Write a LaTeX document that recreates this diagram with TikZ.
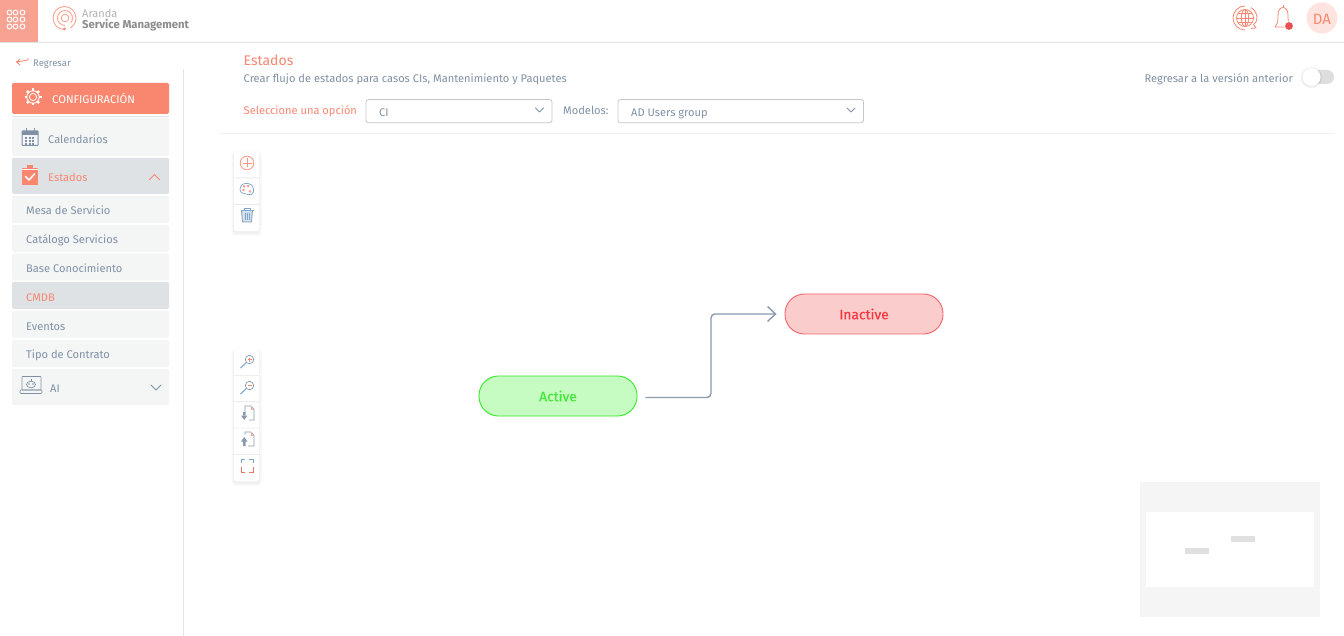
\documentclass[tikz,border=0pt]{standalone}
\usepackage{fontspec}
\setmainfont{Fira Sans}
\usetikzlibrary{arrows.meta,calc}
\definecolor{ora}{HTML}{F98770}
\definecolor{orasq}{HTML}{F8A392}
\definecolor{slate}{HTML}{8091A6}
\definecolor{panel}{HTML}{F4F6F6}
\definecolor{panelsel}{HTML}{DFE2E5}
\definecolor{rule}{HTML}{E3E3E3}
\definecolor{ddbord}{HTML}{C4C7CB}
\definecolor{icoblue}{HTML}{7FA6CC}
\definecolor{icoline}{HTML}{8A9AAE}
\definecolor{gfill}{HTML}{C6FCC2}
\definecolor{gline}{HTML}{35EA2A}
\definecolor{gtext}{HTML}{45E83A}
\definecolor{rfill}{HTML}{FACCCC}
\definecolor{rline}{HTML}{F0646C}
\definecolor{rtext}{HTML}{F5363F}
\tikzset{
  txt/.style={inner sep=0pt,anchor=west,text=slate,text height=11pt,text depth=2pt,font=\fontsize{11.1}{12}\selectfont},
  otxt/.style={txt,text=ora},
  side/.style={fill=panel,draw=none,rounded corners=1.5pt},
  sidesel/.style={fill=panelsel,draw=none,rounded corners=1.5pt},
  dd/.style={draw=ddbord,line width=.8pt,fill=white,rounded corners=2.5pt},
  chev/.style={line width=.9pt,line cap=round,line join=round},
  ico/.style={line width=.7pt,draw=icoline},
  oico/.style={line width=.8pt,draw=ora},
  state/.style={rounded corners=19.5pt,minimum width=158pt,minimum height=40pt,inner sep=0pt,line width=.9pt,font=\fontsize{13.8}{15}\selectfont\addfontfeatures{FakeBold=0.25}},
  flow/.style={draw=icoline,line width=1.4pt,rounded corners=4pt,-{Straight Barb[length=8pt,width=15pt,line width=1.4pt]},shorten <=8pt,shorten >=8pt},
  mini/.style={fill=#1,draw=none}
}
\newcommand{\toolbar}[2]{%
  \foreach \s/\o in {3/.012,2/.018,1/.025}{\fill[black,opacity=\o,rounded corners=3pt] (234-\s,#1-\s+2) rectangle (259+\s,#2+\s+2);}
  \fill[white,rounded corners=2pt] (234,#1) rectangle (259,#2);}
\begin{document}
\begin{tikzpicture}[x=1pt,y=-1pt]
\useasboundingbox (0,0) rectangle (1344,636);
\fill[white] (0,0) rectangle (1344,636);
% top bar
\fill[rule] (0,42) rectangle (1344,43.2);
\fill[orasq] (0,0) rectangle (38,42);
\foreach \x in {9,15,22}{\foreach \y in {12.5,19.5,26.5}{\draw[white,line width=1pt] (\x+.5,\y) circle (2.4);}}
% logo
\draw[ora!75,line width=.9pt] (64.5,29.5) arc (90:420:11.5);
\draw[ora!75,line width=.9pt] (65,25.5) arc (90:400:7.5);
\draw[ora!75,line width=.9pt] (65,18) circle (3.8);
\fill[ora] (64.5,28.8) circle (1.5);
\node[txt,text=black!30,font=\fontsize{11}{12}\selectfont] (lg1) at (82,13) {Aranda};
\node[txt,text=black!45,font=\fontsize{11.3}{12}\selectfont\bfseries] (lg2) at (82,24.5) {Service Management};
% right top
\draw[oico] (1245,18) circle (8.5);
\draw[oico] (1245,18) ellipse (3.6 and 8.5);
\draw[oico] (1236.5,18) -- (1253.5,18) (1238,13.5) -- (1252,13.5) (1238,22.5) -- (1252,22.5) (1245,9.5) -- (1245,26.5);
\draw[oico] (1233,18) arc (180:270:12) (1233,18) arc (180:90:12) (1257,18) arc (0:-60:12) (1257,18) arc (0:55:8) -- (1256,28) -- (1251,28.5);
\draw[oico] (1283,5.5) -- (1283,7.5);
\draw[oico,line join=round] (1275,27) .. controls (1278,23) and (1278,20) .. (1278,15) .. controls (1278,5) and (1288,5) .. (1288,15) .. controls (1288,20) and (1288,23) .. (1291,27) -- cycle;
\fill[white] (1289,26) circle (4.8);
\definecolor{bdot}{HTML}{E8514F}
\fill[bdot] (1289,26) circle (3.9);
\fill[ora!22] (1322,18) circle (15.5);
\node[inner sep=0pt,text=ora,font=\fontsize{15}{16}\selectfont] (da) at (1322,19) {DA};
% side line
\fill[rule] (183,69) rectangle (184,636);
% back
\draw[ora,line width=.8pt,line cap=round] (28,58) -- (28,60) -- (17,62) (20,59) -- (16.5,62) -- (20,65);
\node[txt,font=\fontsize{9.5}{10}\selectfont] (back) at (33,62.5) {Regresar};
% config
\fill[ora,rounded corners=1.5pt] (12,83) rectangle (169,114);
\draw[white,line width=.9pt] (33,97) circle (6.2);
\draw[white,line width=.8pt] (33,97) circle (3.6);
\foreach \a in {0,45,...,315}{\draw[white,line width=2.2pt] (33,97) ++(\a:6.2) -- ++(\a:2.3);}
\node[txt,text=white,font=\fontsize{11.2}{12}\selectfont] (cfg) at (52,99) {CONFIGURACIÓN};
\fill[rule] (12,116) rectangle (169,117);
% panels
\fill[side] (12,118) rectangle (169,156);
\fill[sidesel] (12,158) rectangle (169,194);
\fill[side] (12,196) rectangle (169,223);
\fill[side] (12,225) rectangle (169,252);
\fill[side] (12,253.5) rectangle (169,280.5);
\fill[sidesel] (12,282) rectangle (169,309);
\fill[side] (12,311) rectangle (169,338);
\fill[side] (12,340) rectangle (169,367);
\fill[side] (12,369) rectangle (169,405);
\node[txt] (p1) at (48,139) {Calendarios};
\node[otxt] (p2) at (48,177) {Estados};
\node[txt] (p3) at (26,210) {Mesa de Servicio};
\node[txt] (p4) at (26,239) {Catálogo Servicios};
\node[txt] (p5) at (26,268) {Base Conocimiento};
\node[otxt] (p6) at (26,297) {CMDB};
\node[txt] (p7) at (26,326) {Eventos};
\node[txt] (p8) at (26,354) {Tipo de Contrato};
\node[txt] (p9) at (50,388) {AI};
% calendar icon
\draw[slate,line width=1pt,rounded corners=.5pt] (22,131) rectangle (38,145.5);
\fill[slate] (22,131) rectangle (38,135);
\draw[slate,line width=1pt] (26,128.5) -- (26,132) (34,128.5) -- (34,132);
\foreach \x in {25,28.5,32}{\foreach \y in {137,140,143}{\fill[slate] (\x,\y) rectangle (\x+2,\y+2);}}
% clipboard
\fill[ora] (21.5,168) rectangle (38,185);
\fill[ora] (27,165.5) rectangle (32.5,169);
\draw[white,line width=.8pt] (21.5,169.5) -- (38,169.5);
\draw[white,line width=1.5pt,line cap=round,line join=round] (25.5,176.5) -- (29,180) -- (34.5,174);
\draw[chev,ora] (149.5,179.5) -- (154.5,174.5) -- (159.5,179.5);
\draw[chev,slate] (151,385) -- (156,390) -- (161,385);
% AI laptop
\draw[slate,line width=.7pt,rounded corners=.5pt] (22,376.5) rectangle (41,390);
\draw[slate,line width=.7pt,rounded corners=1pt] (20,390) rectangle (42,393.5);
\draw[slate,line width=.7pt] (31,384.5) ellipse (4.5 and 3.3);
\draw[slate,line width=.7pt] (31,381) -- (31,378.5);
\fill[slate] (29,384) circle (.8) (33,384) circle (.8);
% header
\node[otxt,font=\fontsize{14}{15}\selectfont] (title) at (243.5,61) {Estados};
\node[txt] (sub) at (243.5,78) {Crear flujo de estados para casos CIs, Mantenimiento y Paquetes};
\node[otxt] (sel) at (243.5,110) {Seleccione una opción};
\node[txt] (mod) at (563,110) {Modelos:};
\draw[dd] (366,99.5) rectangle (552,122.8);
\node[txt] (d1) at (379,112.5) {CI};
\draw[chev,slate] (535.5,108) -- (539.5,112) -- (543.5,108);
\draw[dd] (618,99.5) rectangle (863.5,122.8);
\node[txt] (d2) at (631,112.5) {AD Users group};
\draw[chev,slate] (847,108) -- (851,112) -- (855,108);
\node[txt,anchor=east] (rv) at (1293,78) {Regresar a la versión anterior};
\fill[black!13,rounded corners=7pt] (1303,70) rectangle (1334,84);
\foreach \r/\o in {11/.03,10/.05}{\fill[black,opacity=\o] (1311.5,77.5) circle (\r);}
\fill[white] (1311.5,77) circle (9);
\fill[black!6] (220,133) rectangle (1334,134);
% toolbars
\toolbar{152}{231}
\fill[black!7] (234,177.5) rectangle (259,178.3) (234,204) rectangle (259,204.8);
\draw[ora!85,line width=.8pt] (247,163) circle (6.8);
\draw[ora!85,line width=.8pt] (242.5,163) -- (251.5,163) (247,158.5) -- (247,167.5);
\draw[ico,draw=icoblue] (240,189) .. controls (240,184) and (245,183) .. (248,183.5) .. controls (253,184) and (254,189) .. (253.5,192) .. controls (253,195) and (250,195) .. (248,194.5) .. controls (244,193) and (240,194) .. (240,189) -- cycle;
\foreach \x/\y in {244/186.5,248/186,243.5/190,250/191.5}{\draw[ora,line width=.5pt] (\x,\y) circle (.9);}
\draw[icoblue,line width=.8pt] (240.5,210.5) -- (253.5,210.5) (244,210) -- (244,208.5) -- (250,208.5) -- (250,210);
\fill[icoblue!35] (241.5,211) -- (252.5,211) -- (251.5,222) -- (242.5,222) -- cycle;
\draw[icoline,line width=.8pt] (241.5,211) -- (242.5,222) -- (251.5,222) -- (252.5,211);
\draw[icoblue,line width=.7pt] (245,213) -- (245,220) (247,213) -- (247,220) (249,213) -- (249,220);
\toolbar{350}{481}
\fill[black!7] (234,375) rectangle (259,375.8) (234,401.2) rectangle (259,402) (234,427.6) rectangle (259,428.4) (234,454) rectangle (259,454.8);
\draw[icoline,line width=.7pt] (249.5,359.5) circle (4.2);
\draw[icoblue,line width=1.1pt] (246.5,362.5) -- (240.5,368);
\draw[ora,line width=.5pt] (247.5,359.5) -- (251.5,359.5) (249.5,357.5) -- (249.5,361.5);
\draw[icoline,line width=.7pt] (249.5,385.5) circle (4.2);
\draw[icoblue,line width=1.1pt] (246.5,388.5) -- (240.5,394);
\draw[ora,line width=.5pt] (247.5,385.5) -- (251.5,385.5);
\draw[icoline,line width=.7pt] (245,412) -- (245,406) -- (251,406) -- (254,409.5) -- (254,420) -- (249,420);
\draw[ora!70,line width=.5pt] (251,406) -- (251,409.5) -- (254,409.5);
\fill[icoline] (243,412) rectangle (245.5,416) (241,415.5) -- (247.5,415.5) -- (244.2,420) -- cycle;
\draw[icoline,line width=.7pt] (245,434.5) -- (245,432) -- (251,432) -- (254,435.5) -- (254,446) -- (248,446);
\draw[ora!70,line width=.5pt] (251,432) -- (251,435.5) -- (254,435.5);
\fill[icoline] (243,441) rectangle (245.5,446) (241,441.5) -- (247.5,441.5) -- (244.2,437) -- cycle;
\draw[icoblue,line width=.7pt] (241,463) -- (241,459.5) -- (245,459.5) (249,459.5) -- (253,459.5) -- (253,463);
\draw[ora!90!black,line width=.7pt] (241,467) -- (241,472) -- (245,472) (249,472) -- (253,472) -- (253,467);
% states
\node[state,draw=gline,fill=gfill,text=gtext] (active) at (558,396) {Active};
\node[state,draw=rline,fill=rfill,text=rtext] (inactive) at (864,314) {Inactive};
\coordinate (actout) at ($(active.east)+(0,1.5)$);
\coordinate (bend) at (711,397.5);
\draw[flow] (actout) -- (bend) |- (inactive.west);
% minimap
\fill[mini=black!4] (1140,482) rectangle (1320,617);
\fill[mini=white] (1146,512) rectangle (1314,587);
\fill[mini=black!12] (1231,536) rectangle (1255,542);
\fill[mini=black!12] (1185,548) rectangle (1209,554);
\end{tikzpicture}
\end{document}
